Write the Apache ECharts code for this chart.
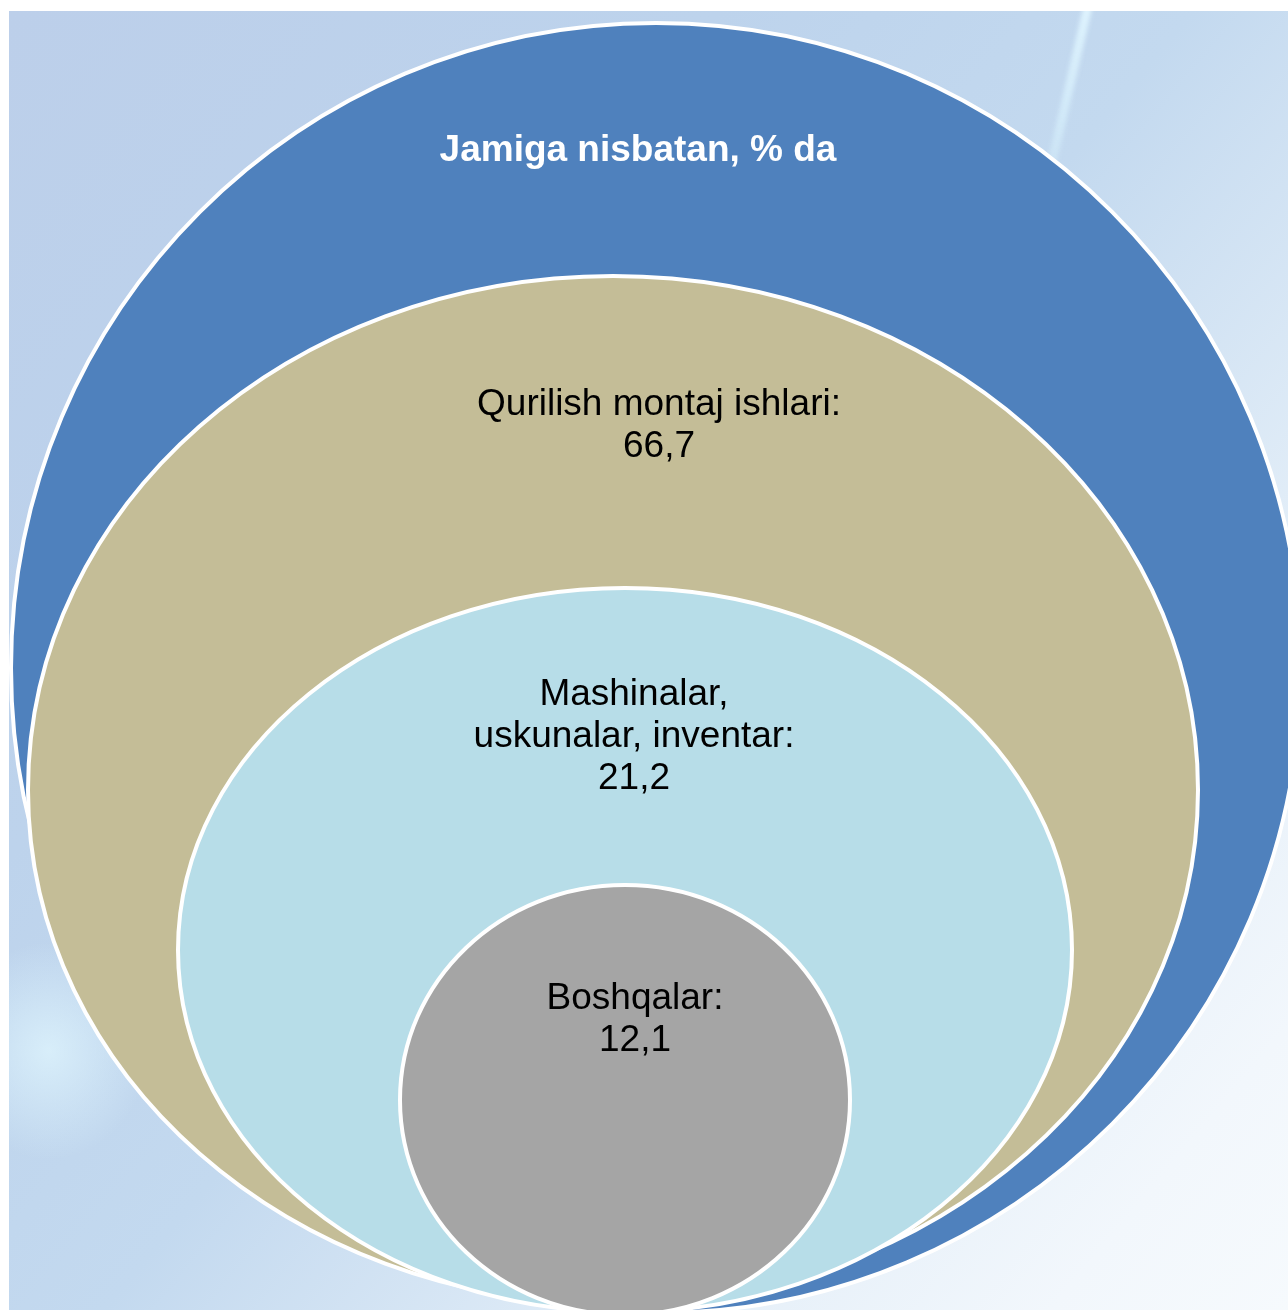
<!DOCTYPE html>
<html>
<head>
<meta charset="utf-8">
<script src="https://cdn.jsdelivr.net/npm/echarts@6/dist/echarts.min.js"></script>
<style>
html, body { margin: 0; padding: 0; background: #ffffff; }
#bg {
  position: absolute; left: 9px; top: 11px; width: 1279px; height: 1299px; overflow: hidden;
  background: linear-gradient(130deg, #BCCFEA 0%, #BDD3EC 30%, #C3D9EF 50%, #E3EEF8 73%, #F2F7FC 90%, #F6FAFD 100%);
}
#streak {
  position: absolute; left: 1078px; top: -20px; width: 9px; height: 260px;
  transform: rotate(13deg); transform-origin: top center;
  background: linear-gradient(180deg, rgba(225,246,255,0.95) 0%, rgba(215,240,252,0.7) 50%, rgba(215,240,252,0) 100%);
  filter: blur(2px);
}
#haze {
  position: absolute; left: -60px; top: 930px; width: 200px; height: 220px;
  background: radial-gradient(ellipse at center, rgba(220,242,252,0.85) 0%, rgba(220,242,252,0) 70%);
}
#c { position: absolute; left: 0; top: 0; width: 1288px; height: 1310px; }
</style>
</head>
<body>
<div id="bg"><div id="streak"></div><div id="haze"></div></div>
<div id="c"></div>
<script>
// ---- data ----
const titleText = 'Jamiga nisbatan, % da';
const categories = ['Qurilish montaj ishlari', 'Mashinalar,\nuskunalar, inventar', 'Boshqalar'];
const values = [66.7, 21.2, 12.1];

// ---- diagram layout (geometry in axis units, not data) ----
const layout = [
  { cx: 656, cy: 668,  rx: 645, ry: 645, lx: 638, ly: 151 },
  { cx: 613, cy: 790,  rx: 585, ry: 514, lx: 659, ly: 426 },
  { cx: 625, cy: 950,  rx: 447, ry: 362, lx: 634, ly: 737 },
  { cx: 625, cy: 1100, rx: 225, ry: 215, lx: 635, ly: 1020 }
];
const fills = ['#4F81BD', '#C4BD97', '#B7DDE8', '#A5A5A5'];

function fmt(v) { return v.toFixed(1).replace('.', ','); }

const labels = [titleText].concat(categories.map(function (c, i) { return c + ':\n' + fmt(values[i]); }));

const seriesData = layout.map(function (s, i) {
  return { name: labels[i], value: [s.cx, s.cy, s.lx, s.ly, s.rx, s.ry] };
});

const chart = echarts.init(document.getElementById('c'), null, { renderer: 'canvas' });
chart.setOption({
  backgroundColor: 'transparent',
  animation: false,
  grid: { left: 0, right: 0, top: 0, bottom: 0 },
  xAxis: { type: 'value', min: 0, max: 1288, show: false },
  yAxis: { type: 'value', min: 0, max: 1310, inverse: true, show: false },
  series: [{
    type: 'custom',
    coordinateSystem: 'cartesian2d',
    clip: false,
    encode: { x: 0, y: 1 },
    data: seriesData,
    renderItem: function (params, api) {
      const i = params.dataIndex;
      const c = api.coord([api.value(0), api.value(1)]);
      const l = api.coord([api.value(2), api.value(3)]);
      const sz = api.size([api.value(4), api.value(5)]);
      const isTitle = i === 0;
      return {
        type: 'group',
        children: [
          {
            type: 'ellipse',
            shape: { cx: c[0], cy: c[1], rx: sz[0], ry: sz[1] },
            style: { fill: fills[i], stroke: '#ffffff', lineWidth: 4 }
          },
          {
            type: 'text',
            x: l[0], y: l[1],
            style: {
              text: labels[i],
              fill: isTitle ? '#ffffff' : '#000000',
              fontFamily: 'Liberation Sans, Arial, sans-serif',
              fontSize: 37,
              fontWeight: isTitle ? 'bold' : 'normal',
              align: 'center',
              verticalAlign: 'middle',
              lineHeight: 42
            }
          }
        ]
      };
    }
  }]
});
</script>
</body>
</html>
